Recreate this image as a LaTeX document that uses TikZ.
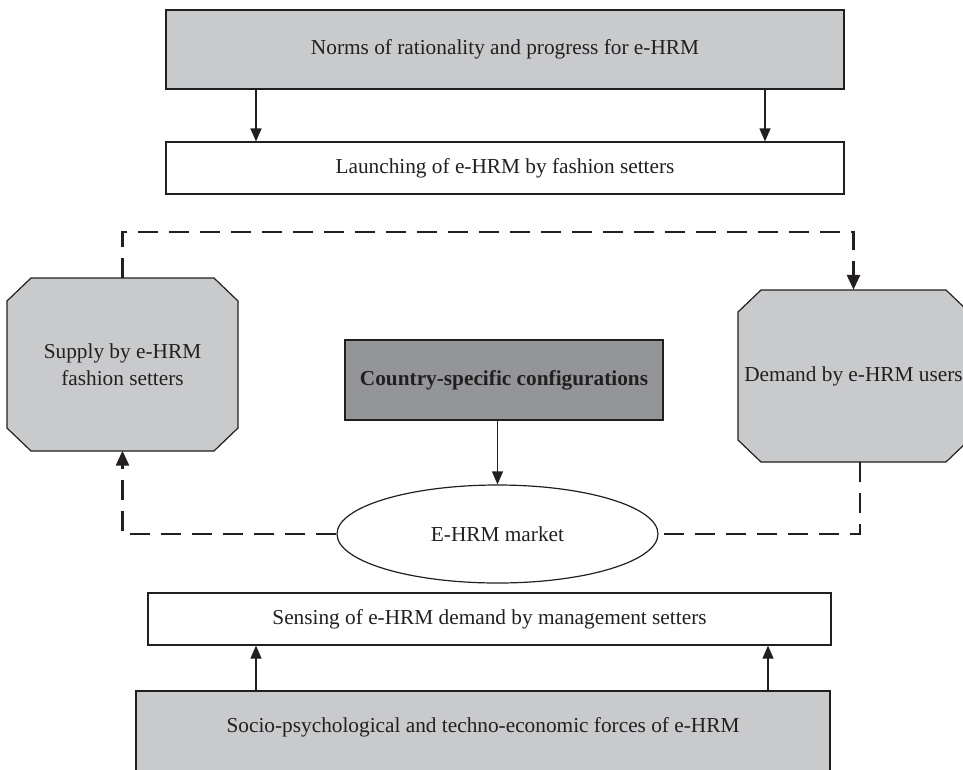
\documentclass[tikz,border=0pt]{standalone}
\usepackage{fontspec}
\setmainfont{Liberation Serif}
\usetikzlibrary{shapes.geometric,arrows.meta}
\definecolor{lightfill}{HTML}{C9CACC}
\definecolor{darkfill}{HTML}{939598}
\definecolor{ink}{HTML}{231F20}

\begin{document}
\begin{tikzpicture}[x=1pt,y=-1pt,
  every node/.style={font=\fontsize{21.3}{26.5}\selectfont, text=ink, inner sep=0pt, align=center},
  plainbox/.style={draw=ink, line width=1.2pt, rectangle, fill=white},
  greybox/.style={plainbox, fill=lightfill},
  darkbox/.style={plainbox, fill=darkfill, font=\fontsize{21.3}{26.5}\selectfont\bfseries},
  octshape/.style={draw=ink, line width=1.2pt, fill=lightfill, line join=miter},
  octlabel/.style={rectangle, minimum width=231pt, minimum height=172pt},
  marketshape/.style={draw=ink, line width=1.2pt, ellipse, fill=white,
    minimum width=321pt, minimum height=98pt},
  conn/.style={draw=ink, line width=1.2pt, -{Triangle[length=13pt,width=11pt]}},
  dashconn/.style={draw=ink, line width=2.8pt, dash pattern=on 20pt off 11pt},
  dashtip/.style={-{Triangle[length=15pt,width=13pt]}}
]
\useasboundingbox (0,0) rectangle (963,769);
\clip (0,0) rectangle (963,769);

% top layer
\node[greybox, minimum width=678pt, minimum height=79pt] (norms) at (505,49.5)
  {Norms of rationality and progress for e-HRM};
\node[plainbox, minimum width=678pt, minimum height=52pt] (launch) at (505,168)
  {Launching of e-HRM by fashion setters};

% middle layer: the two chamfered boxes
\path[octshape] (31,278) -- (214,278) -- (238,301) -- (238,428) -- (214,451)
  -- (31,451) -- (7,428) -- (7,301) -- cycle;
\node[octlabel] (supply) at (122.5,364.5) {Supply by e-HRM\\fashion setters};
\path[octshape] (761,290) -- (946,290) -- (969,312) -- (969,440) -- (946,462)
  -- (761,462) -- (738,440) -- (738,312) -- cycle;
\node[octlabel] (demand) at (853.5,376) {Demand by e-HRM users};

\node[darkbox, minimum width=318pt, minimum height=80pt] (country) at (504,380)
  {Country-specific configurations};
\node[marketshape] (market) at (497.5,534) {E-HRM market};

% bottom layer
\node[plainbox, minimum width=683pt, minimum height=52pt] (sensing) at (489.5,619)
  {Sensing of e-HRM demand by management setters};
\node[greybox, minimum width=694pt, minimum height=80pt] (forces) at (483,731) {};
\node (forcestext) at (483,727) {Socio-psychological and techno-economic forces of e-HRM};

% columns of the vertical arrows
\coordinate (colA) at (256,0);
\coordinate (colB) at (765,0);
\coordinate (colC) at (768,0);

% solid arrows
\draw[conn] (norms.south -| colA) -- (launch.north -| colA);
\draw[conn] (norms.south -| colB) -- (launch.north -| colB);
\draw[conn] (market.north |- country.south) -- (market.north);
\draw[conn] (forces.north -| colA) -- (sensing.south -| colA);
\draw[conn] (forces.north -| colC) -- (sensing.south -| colC);

% dashed feedback loop between supply, demand and market
\coordinate (loopleft) at (122.5,232);
\coordinate (loopright) at (853.5,232);
\coordinate (demandout) at (860,462);
\draw[dashconn, dashtip] (supply.north) -- (loopleft) -- (loopright) -- (demand.north);
\draw[dashconn] (demandout) |- (market.east);
\draw[dashconn, dashtip] (market.west) -| (supply.south);
\end{tikzpicture}
\end{document}
